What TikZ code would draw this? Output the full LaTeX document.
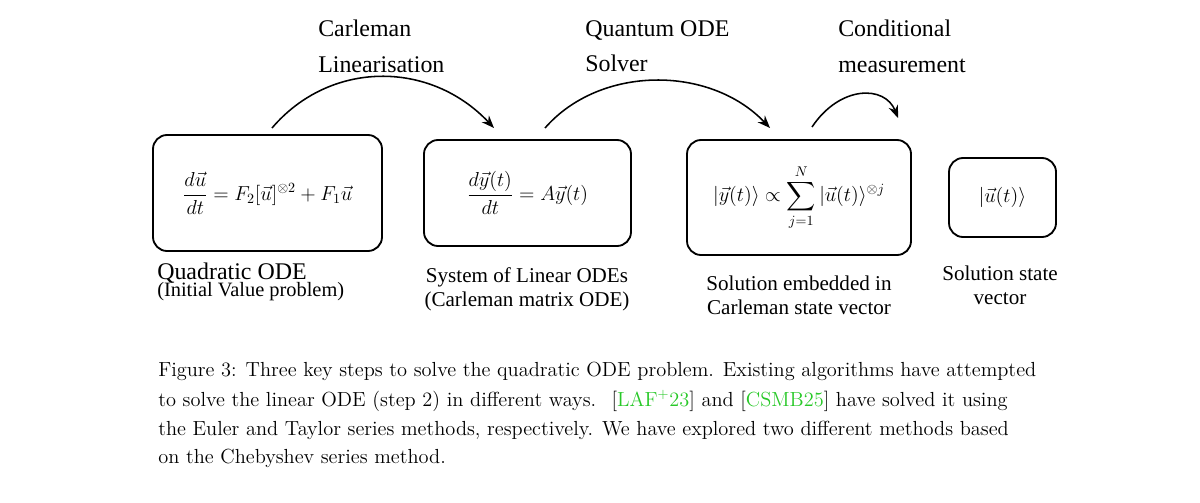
\documentclass[tikz,border=0pt]{standalone}
\usepackage{fontspec}
\usepackage{amsmath,amssymb}
\usetikzlibrary{arrows.meta}
\newfontfamily\tms{Liberation Serif}
\definecolor{citegreen}{RGB}{40,200,40}
\begin{document}
\begin{tikzpicture}[x=0.025cm,y=-0.025cm,
  box/.style={draw,line width=1.3pt,rounded corners=10pt,inner sep=0pt},
  lab/.style={font=\tms\fontsize{15}{17}\selectfont,align=center},
  arc/.style={line width=1.1pt,-{Stealth[length=9pt,width=7pt]}},
  captext/.style={anchor=west,font=\fontsize{14.5}{17}\selectfont,inner sep=0pt}]
\useasboundingbox (0,0) rectangle (1200,502);
\node[box,minimum width=229*0.025cm,minimum height=116*0.025cm] (b1) at (267.5,193) {\Large $\dfrac{d\vec u}{dt}=F_2[\vec u]^{\otimes 2}+F_1\vec u$};
\node[box,minimum width=207*0.025cm,minimum height=106*0.025cm] (b2) at (527.5,193) {\Large $\dfrac{d\vec y(t)}{dt}=A\vec y(t)$};
\node[box,minimum width=224*0.025cm,minimum height=115*0.025cm] (b3) at (799,197.5) {\Large $|\vec y(t)\rangle\propto\displaystyle\sum_{j=1}^{N}|\vec u(t)\rangle^{\otimes j}$};
\node[box,minimum width=107*0.025cm,minimum height=79*0.025cm] (b4) at (1002.5,197.5) {\Large $|\vec u(t)\rangle$};
\node[anchor=north west,inner sep=0pt,align=left] (l1) at (157,263) {\tms\fontsize{17}{19}\selectfont Quadratic ODE\\[-2pt]\tms\fontsize{14.5}{17}\selectfont (Initial Value problem)};
\node[lab,anchor=north] (l2) at (527,263) {System of Linear ODEs\\(Carleman matrix ODE)};
\node[lab,anchor=north] (l3) at (799,271) {Solution embedded in\\Carleman state vector};
\node[lab,anchor=north] (l4) at (1000,261) {Solution state\\vector};
\node[anchor=north west,inner sep=0pt,align=left,font=\tms\fontsize{17}{25}\selectfont] (t1) at (318,20) {Carleman\\Linearisation};
\node[anchor=north west,inner sep=0pt,align=left,font=\tms\fontsize{17}{25}\selectfont] (t2) at (585,20) {Quantum ODE\\Solver};
\node[anchor=north west,inner sep=0pt,align=left,font=\tms\fontsize{17}{25}\selectfont] (t3) at (838,20) {Conditional\\measurement};
\coordinate (a1s) at (272,128); \coordinate (a1e) at (494,128);
\coordinate (a2s) at (545,128); \coordinate (a2e) at (770,128);
\coordinate (a3s) at (812,127); \coordinate (a3e) at (898,118);
\draw[arc] (a1s) .. controls (330,60) and (430,60) .. (a1e);
\draw[arc] (a2s) .. controls (600,65) and (710,65) .. (a2e);
\draw[arc] (a3s) .. controls (840,85) and (885,85) .. (a3e);
\node[captext] (c1) at (158,371) {Figure 3: Three key steps to solve the quadratic ODE problem. Existing algorithms have attempted};
\node[captext] (c2) at (158,401) {to solve the linear ODE (step 2) in different ways. \ [\textcolor{citegreen}{LAF$^{+}$23}] and [\textcolor{citegreen}{CSMB25}] have solved it using};
\node[captext] (c3) at (158,430) {the Euler and Taylor series methods, respectively. We have explored two different methods based};
\node[captext] (c4) at (158,458) {on the Chebyshev series method.};
\end{tikzpicture}
\end{document}
